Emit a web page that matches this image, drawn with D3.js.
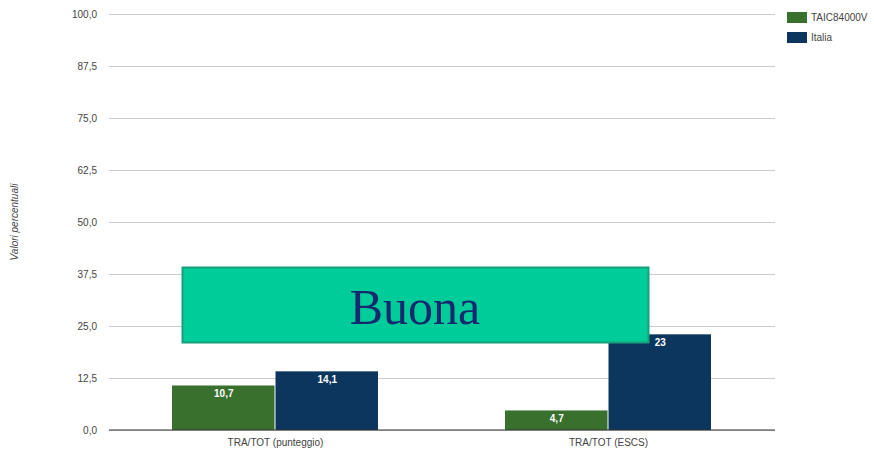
<!DOCTYPE html>
<html>
<head>
<meta charset="utf-8">
<script src="https://cdn.jsdelivr.net/npm/d3@7"></script>
<style>
  body { margin: 0; background: #fff; }
  text { font-family: Arial, "Liberation Sans", sans-serif; }
</style>
</head>
<body>
<div id="chart"></div>
<script>
// Global vars
var categories = ['TRA/TOT (punteggio)', 'TRA/TOT (ESCS)'];
var seriesNames = ['TAIC84000V', 'Italia'];
var schoolValues = [10.7, 4.7];
var italyValues = [14.1, 23];
var yTicks = [0, 12.5, 25, 37.5, 50, 62.5, 75, 87.5, 100];
var valueLabels = [['10,7', '4,7'], ['14,1', '23']];

var colors = ['#3a702e', '#0c365d'];

var width = 874, height = 451;
var margins = { top: 14, right: 99, bottom: 21, left: 109 };
var chartWidth = width - margins.left - margins.right;
var chartHeight = height - margins.top - margins.bottom;

var svg = d3.select('#chart').append('svg')
    .attr('width', width)
    .attr('height', height);

var chart = svg.append('g')
    .attr('transform', 'translate(' + margins.left + ',' + margins.top + ')');

var x0 = d3.scaleBand().domain(categories).range([0, chartWidth]).paddingInner(0).paddingOuter(0);
var groupPad = 63;
var x1 = d3.scaleBand().domain(seriesNames).range([groupPad, x0.bandwidth() - groupPad]).padding(0);
var y = d3.scaleLinear().domain([0, 100]).range([chartHeight, 0]);

// gridlines + tick labels
var yAxis = d3.axisLeft(y).tickValues(yTicks)
    .tickSize(-chartWidth)
    .tickPadding(12)
    .tickFormat(function(d) { return d3.format('.1f')(d).replace('.', ','); });

var yg = chart.append('g').call(yAxis);
yg.select('.domain').remove();
yg.selectAll('line').attr('stroke', '#cccccc').attr('stroke-width', 1);
yg.selectAll('text').attr('fill', '#444').style('font-size', '10px');

// bars
var data = categories.map(function(c, i) {
    return [
        { cat: c, s: seriesNames[0], v: schoolValues[i], label: valueLabels[0][i] },
        { cat: c, s: seriesNames[1], v: italyValues[i], label: valueLabels[1][i] }
    ];
});

var groups = chart.selectAll('.grp').data(data).enter().append('g')
    .attr('transform', function(d, i) { return 'translate(' + x0(categories[i]) + ',0)'; });

groups.selectAll('rect').data(function(d) { return d; }).enter().append('rect')
    .attr('x', function(d) { return x1(d.s); })
    .attr('y', function(d) { return y(d.v); })
    .attr('width', x1.bandwidth() - 1)
    .attr('height', function(d) { return chartHeight - y(d.v); })
    .attr('fill', function(d, i) { return colors[i]; });

groups.selectAll('.val').data(function(d) { return d; }).enter().append('text')
    .attr('x', function(d) { return x1(d.s) + x1.bandwidth() / 2; })
    .attr('y', function(d) { return y(d.v) + 12; })
    .attr('text-anchor', 'middle')
    .attr('fill', '#fff')
    .style('font-size', '10px')
    .style('font-weight', 'bold')
    .text(function(d) { return d.label; });

// baseline
chart.append('line')
    .attr('x1', 0).attr('x2', chartWidth)
    .attr('y1', chartHeight).attr('y2', chartHeight)
    .attr('stroke', '#333').attr('stroke-width', 1);

// category labels
var xAxis = d3.axisBottom(x0).tickSize(0).tickPadding(9);
var xg = chart.append('g').attr('transform', 'translate(0,' + chartHeight + ')').call(xAxis);
xg.select('.domain').remove();
xg.selectAll('text').attr('fill', '#444').style('font-size', '10px');

// y title
svg.append('text')
    .attr('transform', 'translate(18,' + (margins.top + chartHeight / 2) + ') rotate(-90)')
    .attr('text-anchor', 'middle')
    .attr('fill', '#444')
    .style('font-size', '10px')
    .style('font-style', 'italic')
    .text('Valori percentuali');

// legend
var legend = svg.append('g').attr('transform', 'translate(787,12)');
seriesNames.forEach(function(n, i) {
    legend.append('rect').attr('x', 0).attr('y', i * 20).attr('width', 20).attr('height', 11).attr('fill', colors[i]);
    legend.append('text').attr('x', 24).attr('y', i * 20 + 9).attr('fill', '#444')
        .style('font-size', '10px').text(n);
});

// overlay box
svg.append('rect')
    .attr('x', 182.5).attr('y', 267.5).attr('width', 466).attr('height', 75)
    .attr('fill', '#00cc99').attr('stroke', '#17a07c').attr('stroke-width', 2);
svg.append('text')
    .attr('x', 415).attr('y', 324)
    .attr('text-anchor', 'middle')
    .attr('fill', '#152a6e')
    .style('font-family', '"Liberation Serif", "Times New Roman", serif')
    .style('font-size', '50px')
    .text('Buona');
</script>
</body>
</html>
